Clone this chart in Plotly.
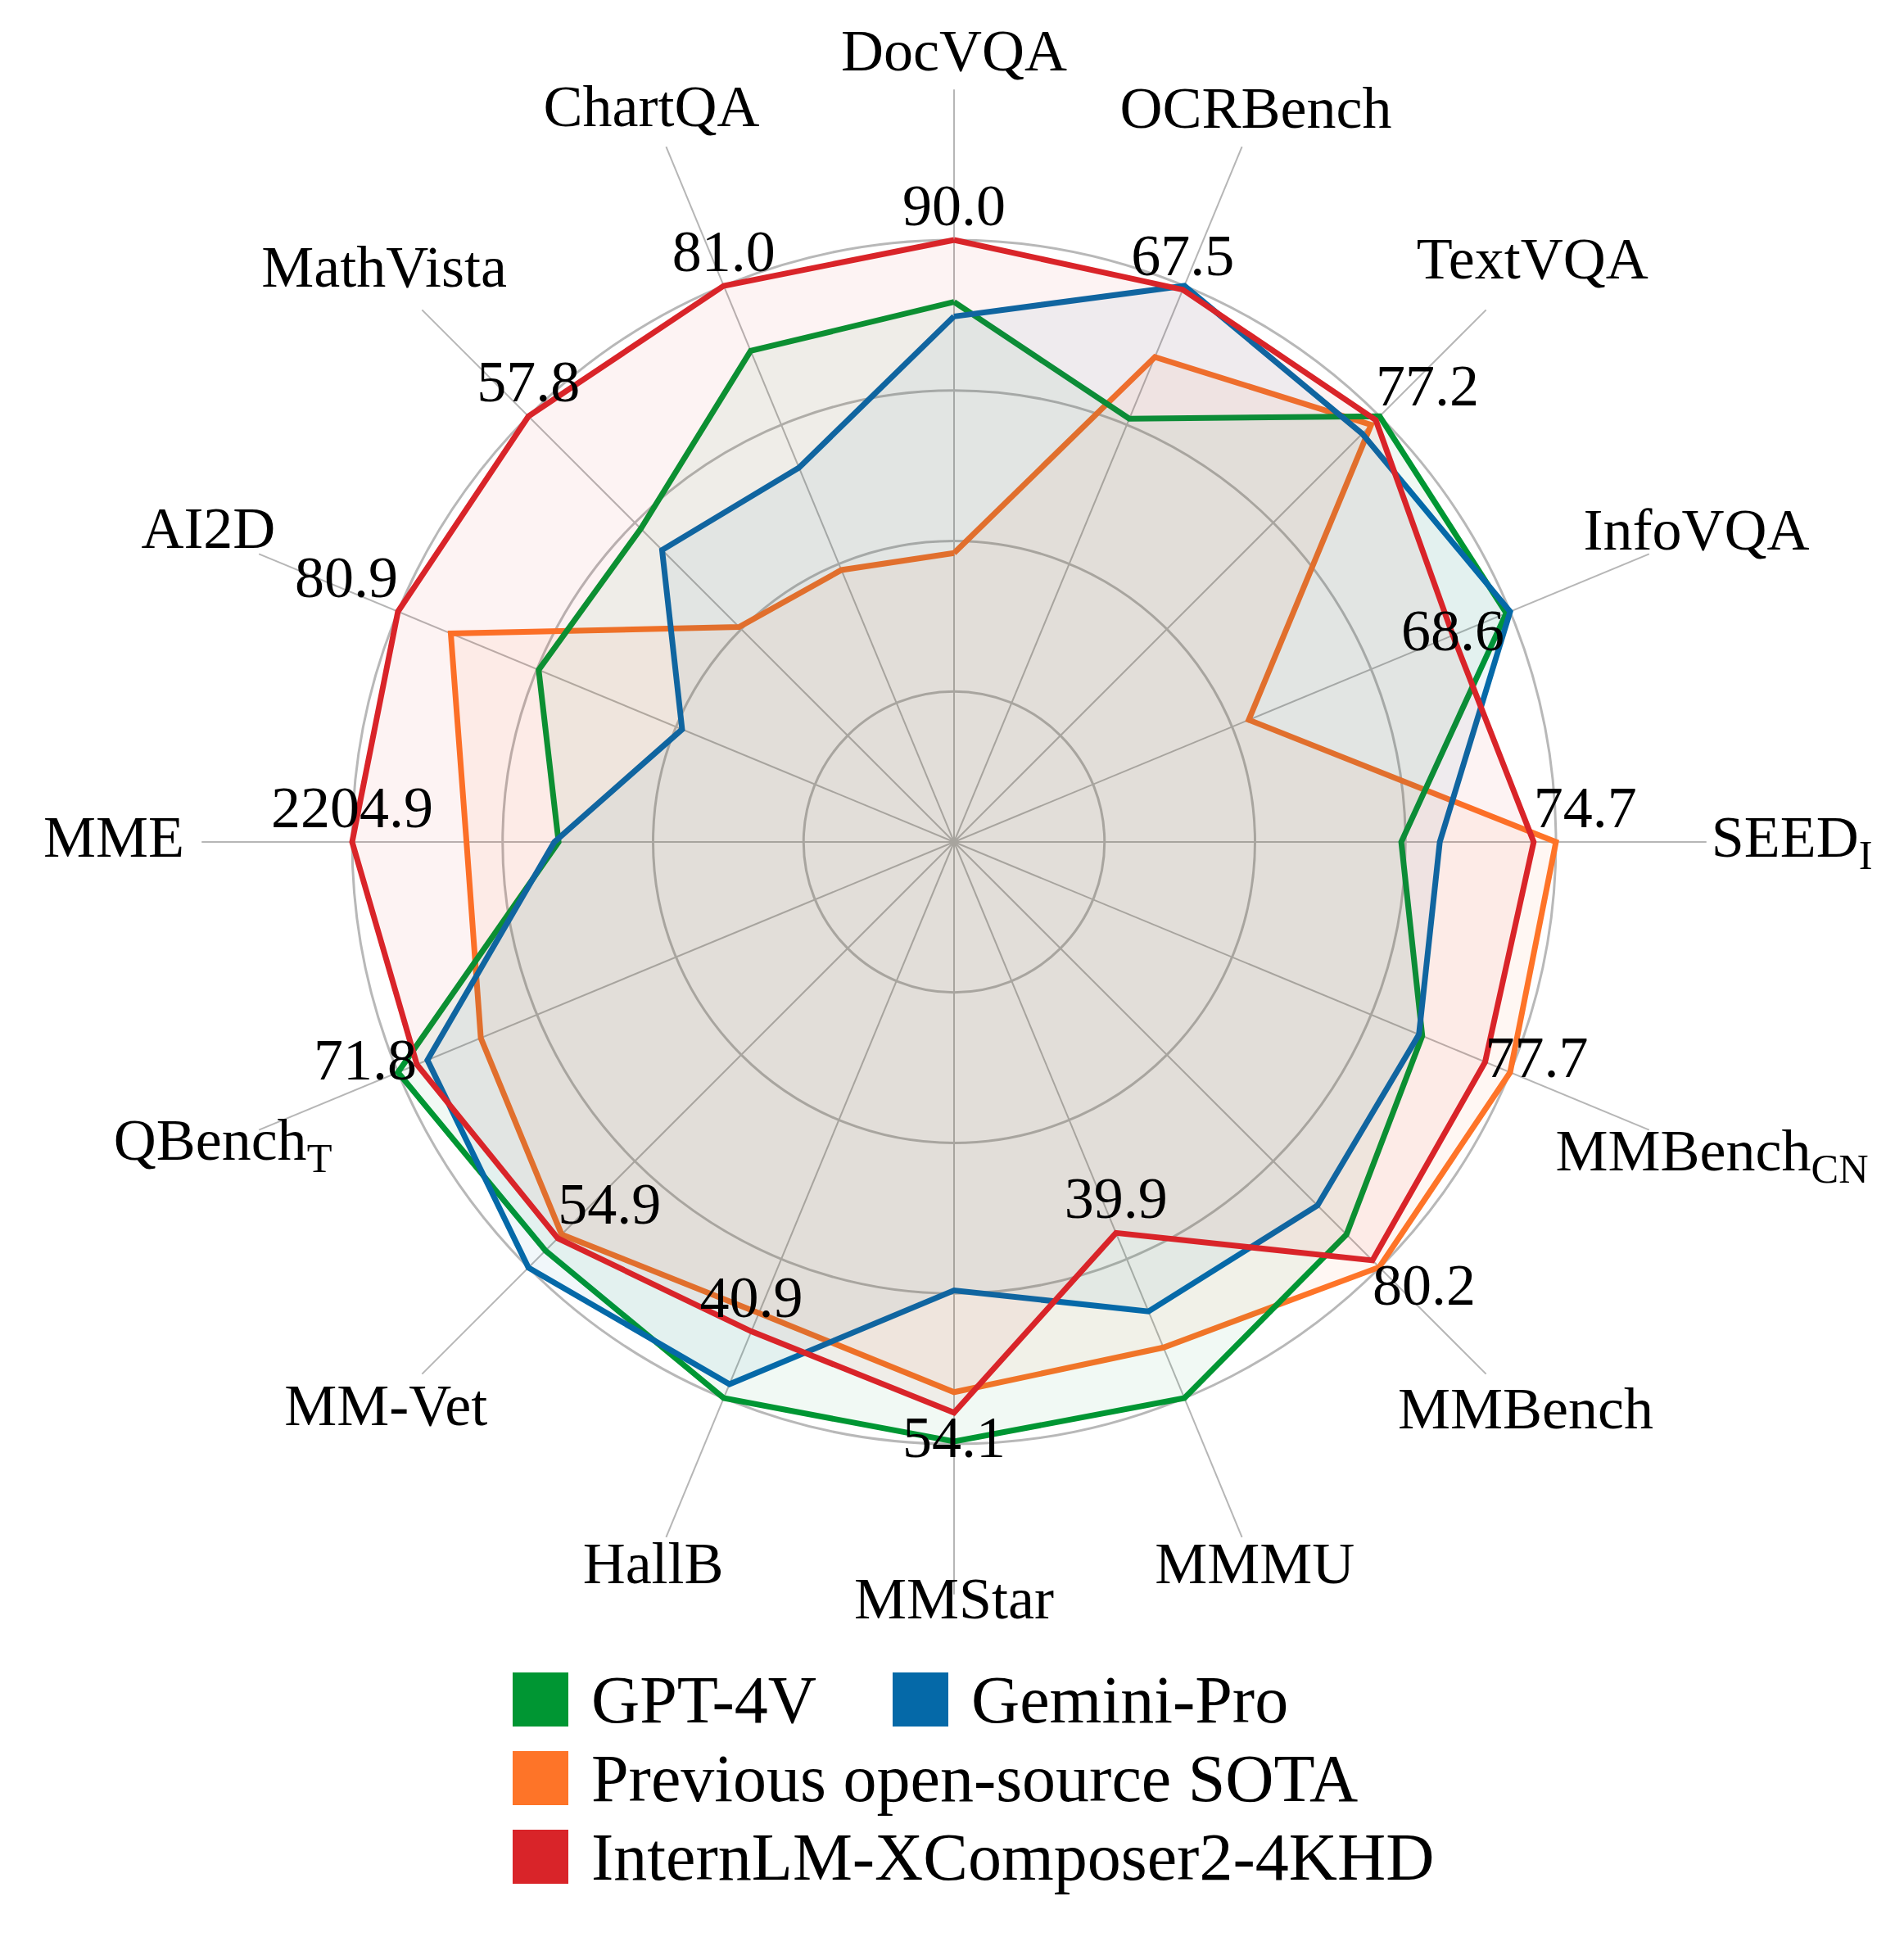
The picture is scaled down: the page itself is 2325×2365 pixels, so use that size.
import plotly.graph_objects as go

# ---------------- data (normalized radius per axis) ----------------
categories = ["DocVQA", "OCRBench", "TextVQA", "InfoVQA", "SEED_I", "MMBench_CN",
              "MMBench", "MMMU", "MMStar", "HallB", "MM-Vet", "QBench_T",
              "MME", "AI2D", "MathVista", "ChartQA"]
tick_labels = ["DocVQA", "OCRBench", "TextVQA", "InfoVQA", "SEED<sub>I</sub>",
               "MMBench<sub>CN</sub>", "MMBench", "MMMU", "MMStar", "HallB", "MM-Vet",
               "QBench<sub>T</sub>", "MME", "AI2D", "MathVista", "ChartQA"]

gpt4v = [0.897, 0.761, 1.000, 0.993, 0.743, 0.842, 0.922, 1.000,
         0.996, 1.000, 0.960, 1.000, 0.657, 0.747, 0.736, 0.883]
gemini_pro = [0.873, 1.000, 0.959, 1.000, 0.807, 0.836, 0.854, 0.844,
              0.745, 0.975, 1.000, 0.947, 0.664, 0.489, 0.686, 0.673]
prev_sota = [0.480, 0.872, 0.980, 0.530, 1.000, 1.000, 0.999, 0.909,
             0.914, 0.847, 0.922, 0.851, 0.810, 0.905, 0.505, 0.489]
internlm_4khd = [1.000, 0.993, 0.991, 0.897, 0.963, 0.955, 0.983, 0.703,
                 0.948, 0.880, 0.931, 0.966, 1.000, 1.000, 1.000, 1.000]

internlm_scores = ["90.0", "67.5", "77.2", "68.6", "74.7", "77.7", "80.2", "39.9",
                   "54.1", "40.9", "54.9", "71.8", "2204.9", "80.9", "57.8", "81.0"]

series_names = ["GPT-4V", "Gemini-Pro", "Previous open-source SOTA", "InternLM-XComposer2-4KHD"]
series_values = [gpt4v, gemini_pro, prev_sota, internlm_4khd]

# ---------------- styling ----------------
series_colors = ["#009633", "#0569a8", "#fe7428", "#d92429"]
draw_order = [2, 0, 1, 3]
score_positions = ["top center", "top center", "top right", "middle center",
                   "top right", "middle right", "bottom right", "top center",
                   "bottom center", "top center", "top right", "middle left",
                   "top center", "top left", "top center", "top center"]
# radial placement of the axis names (in units of the outer ring)
axis_label_radius = [1.306, 1.310, 1.359, 1.335, 1.392, 1.363, 1.343, 1.306,
                     1.265, 1.306, 1.335, 1.315, 1.396, 1.341, 1.339, 1.314]

W, H = 2325, 2365
FONT = "Liberation Serif, Times New Roman, serif"
LINE_W = 7
FILL_ALPHA = 0.055
cx, cy = 1165, 1028      # chart center, px from top-left
RING = 735               # px per unit radius (outer ring = 1.0)
SPOKE = 1.25             # spokes extend to this radius


def rgba(hex_color, a):
    h = hex_color.lstrip("#")
    r, g, b = int(h[0:2], 16), int(h[2:4], 16), int(h[4:6], 16)
    return f"rgba({r},{g},{b},{a})"


def domain_for(radius_units):
    rp = radius_units * RING
    return dict(x=[(cx - rp) / W, (cx + rp) / W],
                y=[max(0.0, (H - cy - rp) / H), min(1.0, (H - cy + rp) / H)])


fig = go.Figure()

for i in draw_order:
    vals = series_values[i]
    fig.add_trace(go.Scatterpolar(
        r=vals + [vals[0]],
        theta=categories + [categories[0]],
        mode="lines",
        name=series_names[i],
        line=dict(color=series_colors[i], width=LINE_W),
        fill="toself",
        fillcolor=rgba(series_colors[i], FILL_ALPHA),
        showlegend=False,
        hoverinfo="skip",
        subplot="polar",
    ))

# InternLM-XComposer2-4KHD scores next to its vertices
fig.add_trace(go.Scatterpolar(
    r=internlm_4khd,
    theta=categories,
    mode="text",
    text=internlm_scores,
    textposition=score_positions,
    textfont=dict(family=FONT, size=72, color="black"),
    showlegend=False,
    hoverinfo="skip",
    cliponaxis=False,
    subplot="polar",
))

# axis names around the chart (on a larger, invisible polar overlay with the same center/scale)
label_range = min(cy, cx, H - cy, W - cx) / RING
fig.add_trace(go.Scatterpolar(
    r=axis_label_radius,
    theta=categories,
    mode="text",
    text=tick_labels,
    textposition="middle center",
    textfont=dict(family=FONT, size=72, color="black"),
    showlegend=False,
    hoverinfo="skip",
    cliponaxis=False,
    subplot="polar2",
))

common_angular = dict(
    type="category",
    categoryarray=categories,
    rotation=90,
    direction="clockwise",
    showticklabels=False,
    ticks="",
    showline=False,
)

fig.update_layout(
    width=W, height=H,
    margin=dict(l=0, r=0, t=0, b=0),
    paper_bgcolor="white",
    plot_bgcolor="white",
    showlegend=False,
    font=dict(family=FONT, color="black"),
    polar=dict(
        domain=domain_for(SPOKE),
        bgcolor="rgba(0,0,0,0)",
        angularaxis=dict(**common_angular, showgrid=True,
                         gridcolor="#b6b6b6", gridwidth=1.5),
        radialaxis=dict(
            range=[0, SPOKE],
            tickmode="array",
            tickvals=[0.25, 0.5, 0.75, 1.0],
            showticklabels=False,
            ticks="",
            showline=False,
            showgrid=True,
            gridcolor="#b8b8b8",
            gridwidth=2.5,
        ),
    ),
    polar2=dict(
        domain=domain_for(label_range),
        bgcolor="rgba(0,0,0,0)",
        angularaxis=dict(**common_angular, showgrid=False),
        radialaxis=dict(range=[0, label_range], visible=False,
                        showgrid=False, showline=False, showticklabels=False),
    ),
)

# ---------------- legend (colored squares + labels) ----------------
legend_rows = [[0, 1], [2], [3]]
legend_col_x = [626, 1090]         # px, left edge of square
legend_row_y = [2075, 2171, 2267]  # px from top, row centers
patch_w, patch_h = 68, 66
text_gap = 26
shapes, annotations = [], []
for ri, row in enumerate(legend_rows):
    for ci, si in enumerate(row):
        x0 = legend_col_x[ci]
        yc = legend_row_y[ri]
        shapes.append(dict(
            type="rect", xref="paper", yref="paper",
            x0=x0 / W, x1=(x0 + patch_w) / W,
            y0=1 - (yc + patch_h / 2) / H, y1=1 - (yc - patch_h / 2) / H,
            fillcolor=series_colors[si], line=dict(width=0),
        ))
        annotations.append(dict(
            xref="paper", yref="paper",
            x=(x0 + patch_w + text_gap) / W, y=1 - yc / H,
            xanchor="left", yanchor="middle",
            text=series_names[si], showarrow=False,
            font=dict(family=FONT, size=82, color="black"),
        ))
fig.update_layout(shapes=shapes, annotations=annotations)

fig.write_html("out.html", config={"displayModeBar": False},
               post_script="document.body.style.margin='0px';")
